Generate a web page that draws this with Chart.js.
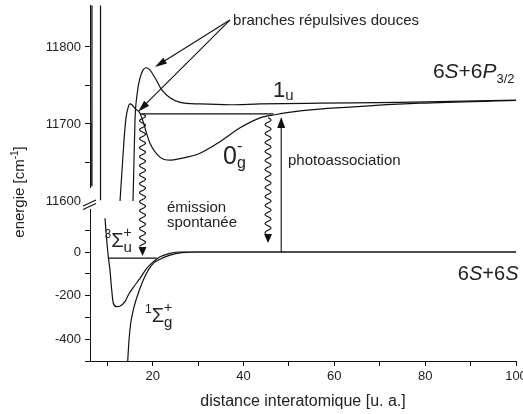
<!DOCTYPE html>
<html>
<head>
<meta charset="utf-8">
<title>Potentiels Cs2 - photoassociation</title>
<script src="https://cdn.jsdelivr.net/npm/chart.js@4.4.1/dist/chart.umd.min.js"></script>
<style>
  html, body { margin: 0; padding: 0; background: #fff; }
</style>
</head>
<body>
<canvas id="pot" width="523" height="414"></canvas>
<script>
// distance interatomique (u. a.) et energie (cm-1)

// etats excites, au-dessus de 6S+6P3/2 (axe du haut)
const r1u = [15.67, 15.89, 16.11, 16.55, 17.21, 17.87, 18.53, 19.41, 20.51, 22.06, 23.82, 26.02, 30.42, 37.03, 43.64, 56.85, 74.47, 100];
const e1u = [11600, 11653, 11705, 11738, 11760, 11770, 11773, 11770, 11760, 11744, 11734, 11728, 11726, 11725, 11726, 11727, 11728, 11731];

const r0g = [12.81, 13.25, 13.69, 14.13, 14.57, 15.01, 15.45, 16.11, 17.21, 19.41, 21.61, 23.82, 26.02, 30.42, 34.83, 39.23, 43.64, 46.94, 52.44, 63.45, 78.87, 100];
const e0g = [11600, 11640, 11679, 11708, 11721, 11726, 11725, 11720, 11714, 11675, 11657, 11653, 11655, 11662, 11677, 11695, 11708, 11712, 11717, 11722, 11727, 11730.5];

// murs des puits internes, coupes par la cassure
const rMurA = [6.62, 6.63];
const eMurA = [11854, 11619];
const rMurB = [8.51, 8.52];
const eMurB = [11854, 11601];
const rMurC = [6.41, 6.42];
const eMurC = [11702, 11619];

// niveau excite (photoassociation)
const rNivHaut = [17.2, 46.6];
const eNivHaut = [11713, 11713];

// etats fondamentaux, limite 6S+6S (axe du bas)
const r3s = [9.50, 9.88, 10.23, 10.60, 10.98, 11.33, 12.08, 12.81, 13.91, 14.63, 15.74, 17.21, 18.69, 20.14, 21.61, 23.82, 26.02, 30.4, 100];
const e3s = [155, 55, -22, -83, -174, -235, -251, -248, -228, -197, -162, -121, -75, -45, -22, -6, 0, 0, 0];

const r1s = [14.45, 14.79, 15.16, 15.74, 16.33, 17.94, 19.79, 21.61, 23.82, 26.39, 30.42, 100];
const e1s = [-520, -404, -327, -266, -220, -128, -60, -33, -14, -3, 0, 0];

const rNivBas = [10.16, 20.9];
const eNivBas = [-28, -28];

// transitions : r, energie de depart (haut), energie d'arrivee (bas)
const rEmission = [17.76, 45.4];
const eEmissionHaut = [11713, 11708];
const eEmissionBas = [-18, 41];
const rPhoto = 48.3;
const ePhotoBas = 0;
const ePhotoHaut = 11709;

const POLICE = '"Liberation Sans", Arial, sans-serif';
Chart.defaults.font.family = POLICE;

function serie(r, e, axe, lisse) {
    return {
        data: r.map((x, i) => ({ x: x, y: e[i] })),
        yAxisID: axe,
        borderColor: '#111',
        borderWidth: 1.2,
        pointRadius: 0,
        fill: false,
        cubicInterpolationMode: lisse ? 'monotone' : 'default',
        tension: 0
    };
}

// petit texte compose (indices, exposants)
function texte(ctx, morceaux, x, y) {
    let cx = x;
    for (const m of morceaux) {
        ctx.font = (m.it ? 'italic ' : '') + m.t + 'px ' + POLICE;
        ctx.fillText(m.s, cx, y + (m.dy || 0));
        if (!m.garde) cx += ctx.measureText(m.s).width;
    }
}

function pointe(ctx, x1, y1, x2, y2, long, larg) {
    const a = Math.atan2(y2 - y1, x2 - x1);
    const c = Math.cos(a), s = Math.sin(a);
    ctx.beginPath();
    ctx.moveTo(x1, y1);
    ctx.lineTo(x2 - c * long * 0.7, y2 - s * long * 0.7);
    ctx.stroke();
    ctx.beginPath();
    ctx.moveTo(x2, y2);
    ctx.lineTo(x2 - c * long + s * larg / 2, y2 - s * long - c * larg / 2);
    ctx.lineTo(x2 - c * long - s * larg / 2, y2 - s * long + c * larg / 2);
    ctx.closePath();
    ctx.fill();
}

function ondule(ctx, x, y1, y2) {
    const fin = y2 - 9;
    ctx.beginPath();
    ctx.moveTo(x, y1);
    for (let y = y1; y <= fin; y += 0.5) {
        ctx.lineTo(x + 3 * Math.sin((y - y1) / 9 * 2 * Math.PI), y);
    }
    ctx.stroke();
    ctx.beginPath();
    ctx.moveTo(x, y2);
    ctx.lineTo(x - 4, fin);
    ctx.lineTo(x + 4, fin);
    ctx.closePath();
    ctx.fill();
}

const decor = {
    id: 'decor',
    afterDatasetsDraw(chart) {
        const ctx = chart.ctx;
        const sx = chart.scales.x, sh = chart.scales.yHaut, sb = chart.scales.yBas;
        const X = v => sx.getPixelForValue(v);
        const H = v => sh.getPixelForValue(v);
        const B = v => sb.getPixelForValue(v);
        ctx.save();
        ctx.strokeStyle = '#111';
        ctx.fillStyle = '#111';
        ctx.lineWidth = 1.1;

        // cassure de l'axe
        const ax = chart.chartArea.left;
        ctx.fillStyle = '#fff';
        ctx.fillRect(ax - 8, 188, 15, 21);
        ctx.fillStyle = '#111';
        ctx.beginPath();
        ctx.moveTo(ax - 7, 206); ctx.lineTo(ax + 6, 200);
        ctx.moveTo(ax - 7, 209.5); ctx.lineTo(ax + 6, 203.5);
        ctx.stroke();

        // emission spontanee
        for (let i = 0; i < rEmission.length; i++) {
            ondule(ctx, X(rEmission[i]), H(eEmissionHaut[i]), B(eEmissionBas[i]));
        }
        // photoassociation
        pointe(ctx, X(rPhoto), B(ePhotoBas), X(rPhoto), H(ePhotoHaut), 11, 8);

        // branches repulsives douces
        pointe(ctx, X(37.0), H(11835), X(20.5), H(11774), 12, 7);
        pointe(ctx, X(37.0), H(11835), X(16.8), H(11716), 12, 7);

        ctx.fillStyle = '#222';
        ctx.textBaseline = 'alphabetic';
        texte(ctx, [{ s: 'branches répulsives douces', t: 15 }], X(37.7), H(11828.6));
        texte(ctx, [{ s: '1', t: 22 }, { s: 'u', t: 15, dy: 3 }], X(46.5), H(11735));
        texte(ctx, [{ s: '6', t: 21 }, { s: 'S', t: 21, it: true }, { s: '+6', t: 21 }, { s: 'P', t: 21, it: true }, { s: '3/2', t: 13, dy: 5 }], X(81.7), H(11759.7));
        texte(ctx, [{ s: '0', t: 25 }, { s: '-', t: 16, dy: -13, garde: true }, { s: 'g', t: 16, dy: 4 }], X(35.5), H(11648));
        texte(ctx, [{ s: 'photoassociation', t: 15 }], X(49.8), H(11646.8));
        texte(ctx, [{ s: 'émission', t: 15 }], X(23.15), B(183.5));
        texte(ctx, [{ s: 'spontanée', t: 15 }], X(23.15), B(114.7));
        texte(ctx, [{ s: '6', t: 20 }, { s: 'S', t: 20, it: true }, { s: '+6', t: 20 }, { s: 'S', t: 20, it: true }], X(87.2), B(-128.4));
        texte(ctx, [{ s: '3', t: 12, dy: -9 }, { s: 'Σ', t: 20 }, { s: '+', t: 14, dy: -10, garde: true }, { s: 'u', t: 15, dy: 5 }], X(9.4), B(22.9));
        texte(ctx, [{ s: '1', t: 12, dy: -9 }, { s: 'Σ', t: 20 }, { s: '+', t: 14, dy: -10, garde: true }, { s: 'g', t: 15, dy: 5 }], X(18.3), B(-321));

        // titre de l'axe vertical
        ctx.translate(19, 192);
        ctx.rotate(-Math.PI / 2);
        ctx.font = '15px ' + POLICE;
        const w = ctx.measureText('energie [cm').width + ctx.measureText(']').width;
        ctx.font = '10px ' + POLICE;
        const ws = ctx.measureText('-1').width;
        texte(ctx, [{ s: 'energie [cm', t: 15 }, { s: '-1', t: 10, dy: -6 }, { s: ']', t: 15 }], -(w + ws) / 2, 5);
        ctx.restore();
    }
};

const axeY = (min, max, poids, rang, pas, etiquette, garder) => ({
    type: 'linear',
    position: 'left',
    stack: 'energie',
    stackWeight: poids,
    weight: rang,
    min: min,
    max: max,
    afterBuildTicks: s => { s.ticks = s.ticks.filter(t => garder(t.value)); },
    afterFit: s => { s.width = 90; s.paddingTop = 0; s.paddingBottom = 0; },
    ticks: {
        stepSize: pas,
        includeBounds: false,
        autoSkip: false,
        color: '#222',
        font: { size: 13 },
        padding: 4,
        callback: v => etiquette(v) ? String(v) : ''
    },
    grid: { display: true, drawOnChartArea: false, drawTicks: true, tickLength: 5, color: '#111' },
    border: { display: true, color: '#111', width: 1 }
});

new Chart(document.getElementById('pot'), {
    type: 'line',
    data: {
        datasets: [
            serie(r1u, e1u, 'yHaut', true),
            serie(r0g, e0g, 'yHaut', true),
            serie(rMurA, eMurA, 'yHaut', false),
            serie(rMurB, eMurB, 'yHaut', false),
            serie(rMurC, eMurC, 'yHaut', false),
            serie(rNivHaut, eNivHaut, 'yHaut', false),
            serie(r3s, e3s, 'yBas', true),
            serie(r1s, e1s, 'yBas', true),
            serie(rNivBas, eNivBas, 'yBas', false)
        ]
    },
    options: {
        responsive: false,
        animation: false,
        devicePixelRatio: 1,
        layout: { padding: { top: 5, right: 7, bottom: 0, left: 0 } },
        plugins: { legend: { display: false }, tooltip: { enabled: false } },
        scales: {
            x: {
                type: 'linear',
                min: 6.2,
                max: 100,
                afterFit: s => { s.height = 53; s.paddingLeft = 0; s.paddingRight = 0; },
                ticks: {
                    stepSize: 10,
                    includeBounds: false,
                    autoSkip: false,
                    maxRotation: 0,
                    color: '#222',
                    font: { size: 13 },
                    padding: 3,
                    callback: v => v % 20 === 0 ? String(v) : ''
                },
                grid: { display: true, drawOnChartArea: false, drawTicks: true, tickLength: 5, color: '#111' },
                border: { display: true, color: '#111', width: 1 },
                title: {
                    display: true,
                    text: 'distance interatomique [u. a.]',
                    color: '#222',
                    font: { size: 16 },
                    padding: { top: 0, bottom: 3 }
                }
            },
            yBas: axeY(-500, 215.6, 156, 0, 100, v => v % 200 === 0 && v > -500, v => v <= 100),
            yHaut: axeY(11594.8, 11854.5, 200, 1, 50, v => v % 100 === 0, v => v <= 11800)
        }
    },
    plugins: [decor]
});
</script>
</body>
</html>
